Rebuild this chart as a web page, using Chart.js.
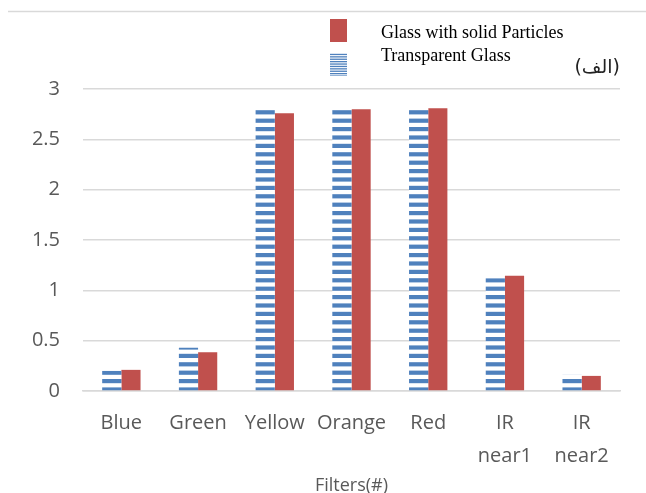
<!DOCTYPE html>
<html>
<head>
<meta charset="utf-8">
<script src="https://cdn.jsdelivr.net/npm/chart.js@4.4.1/dist/chart.umd.min.js"></script>
<style>
  html, body { margin: 0; padding: 0; background: #fff; }
  #wrap { width: 646px; height: 493px; }
</style>
</head>
<body>
<div id="wrap"><canvas id="myChart"></canvas></div>
<script>
const filtros = [['Blue'], ['Green'], ['Yellow'], ['Orange'], ['Red'], ['IR', 'near1'], ['IR', 'near2']];
const vidrioTransparente = [0.20, 0.43, 2.81, 2.81, 2.81, 1.12, 0.16];
const vidrioParticulas = [0.21, 0.385, 2.76, 2.80, 2.81, 1.145, 0.15];
const yTicks = [0, 0.5, 1, 1.5, 2, 2.5, 3];

const azul = '#4f81bd';
const rojo = '#c0504d';
const gris = '#595959';

// rayas horizontales para la serie transparente
const rayas = (alto, banda) => {
    const c = document.createElement('canvas');
    c.width = 8;
    c.height = alto * 5;
    const cx = c.getContext('2d');
    cx.fillStyle = '#ffffff';
    cx.fillRect(0, 0, 8, c.height);
    cx.fillStyle = azul;
    for (let i = 0; i < 5; i++) {
        cx.fillRect(0, i * alto + 1, 8, banda);
    }
    return cx.createPattern(c, 'repeat');
};
const patron = rayas(8.4, 4.2);
const patronLeyenda = rayas(2.4, 1.3);

const leyenda = {
    id: 'leyenda',
    afterDraw(chart) {
        const ctx = chart.ctx;
        ctx.save();
        ctx.strokeStyle = '#d9d9d9';
        ctx.lineWidth = 1.5;
        ctx.beginPath();
        ctx.moveTo(8, 11.5);
        ctx.lineTo(646, 11.5);
        ctx.stroke();

        ctx.fillStyle = rojo;
        ctx.fillRect(330, 19, 17, 23);
        ctx.fillStyle = patronLeyenda;
        ctx.fillRect(330, 53, 17, 23);

        ctx.fillStyle = '#000';
        ctx.font = '18px "Liberation Serif"';
        ctx.textBaseline = 'middle';
        ctx.textAlign = 'left';
        ctx.fillText('Glass with solid Particles', 381, 33);
        ctx.fillText('Transparent Glass', 381, 56);

        ctx.fillStyle = '#222';
        ctx.font = '19px "DejaVu Sans"';
        ctx.textAlign = 'right';
        ctx.fillText('(الف)', 620, 68);
        ctx.restore();
    }
};

const graph = document.querySelector('#myChart');

new Chart(graph, {
    type: 'bar',
    data: {
        labels: filtros,
        datasets: [{
            label: 'Transparent Glass',
            data: vidrioTransparente,
            backgroundColor: patron,
            borderWidth: 0
        }, {
            label: 'Glass with solid Particles',
            data: vidrioParticulas,
            backgroundColor: rojo,
            borderWidth: 0
        }]
    },
    options: {
        responsive: true,
        maintainAspectRatio: false,
        animation: false,
        layout: {
            padding: { top: 89, right: 26, left: 0, bottom: 0 }
        },
        datasets: {
            bar: {
                categoryPercentage: 0.5,
                barPercentage: 1
            }
        },
        scales: {
            x: {
                afterFit: (scale) => { scale.height = 102; },
                grid: { display: false, drawTicks: false },
                border: { display: true, color: '#d9d9d9', width: 1.5 },
                ticks: {
                    color: gris,
                    padding: 16,
                    maxRotation: 0,
                    font: { family: '"Open Sans"', size: 20, lineHeight: 1.65 }
                },
                title: {
                    display: true,
                    text: 'Filters(#)',
                    color: gris,
                    padding: 0,
                    font: { family: '"Open Sans"', size: 18, lineHeight: 0.8 }
                }
            },
            y: {
                min: 0,
                max: 3,
                afterFit: (scale) => { scale.width = 83; },
                afterBuildTicks: (scale) => {
                    scale.ticks = yTicks.map(v => ({ value: v }));
                },
                grid: { color: '#d9d9d9', lineWidth: 1.5, drawTicks: false },
                border: { display: false },
                ticks: {
                    color: gris,
                    padding: 23,
                    callback: (v) => String(v),
                    font: { family: '"Open Sans"', size: 20 }
                }
            }
        },
        plugins: {
            legend: { display: false },
            tooltip: { enabled: false }
        }
    },
    plugins: [leyenda]
});
</script>
</body>
</html>
